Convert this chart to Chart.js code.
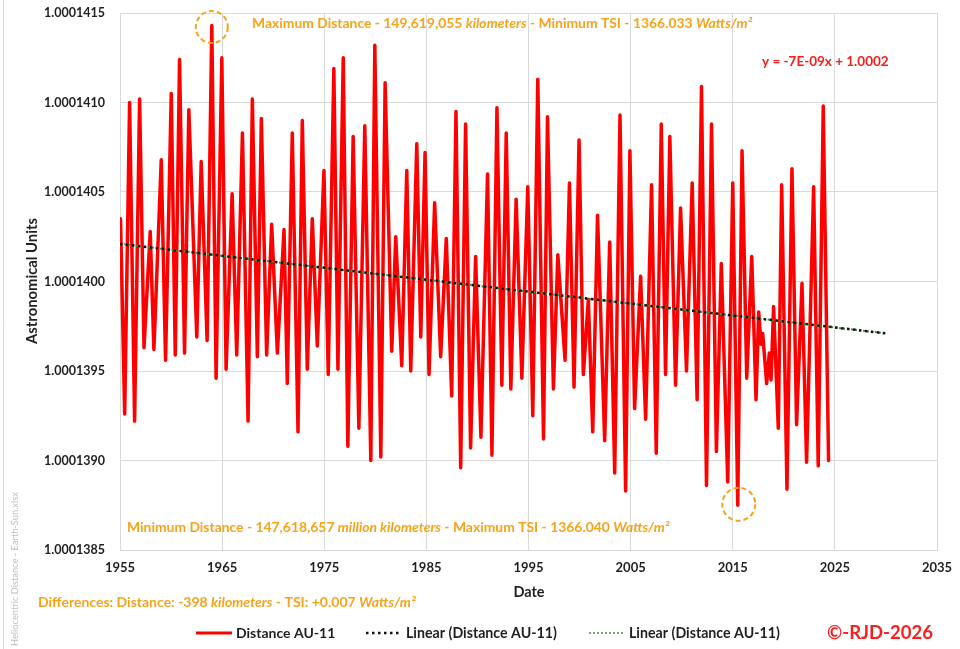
<!DOCTYPE html>
<html>
<head>
<meta charset="utf-8">
<script src="https://cdn.jsdelivr.net/npm/chart.js@4/dist/chart.umd.min.js"></script>
<style>
  html, body { margin: 0; padding: 0; background: #ffffff; }
  #wrap { width: 960px; height: 649px; position: relative; }
</style>
</head>
<body>
<div id="wrap"><canvas id="c" width="960" height="649"></canvas></div>
<script>
// Heliocentric distance (AU, 11-year series), turning points by decimal year
const years = [
  1955.05, 1955.46, 1955.94, 1956.43, 1956.92, 1957.35, 1957.96, 1958.32, 1959.04, 1959.46,
  1960.02, 1960.41, 1960.83, 1961.32, 1961.74, 1962.52, 1962.95, 1963.53, 1963.99, 1964.41,
  1964.97, 1965.39, 1965.98, 1966.43, 1966.99, 1967.54, 1967.96, 1968.45, 1968.84, 1969.36,
  1969.85, 1970.41, 1971.06, 1971.38, 1971.87, 1972.43, 1972.85, 1973.34, 1973.83, 1974.32,
  1974.97, 1975.39, 1975.94, 1976.34, 1976.86, 1977.31, 1977.83, 1978.39, 1978.97, 1979.56,
  1979.95, 1980.54, 1980.96, 1981.61, 1982.00, 1982.59, 1983.08, 1983.47, 1984.06, 1984.45,
  1984.87, 1985.26, 1985.81, 1986.40, 1986.95, 1987.48, 1987.90, 1988.36, 1988.84, 1989.33,
  1989.82, 1990.34, 1990.99, 1991.42, 1991.91, 1992.39, 1992.82, 1993.27, 1993.79, 1994.35,
  1994.93, 1995.42, 1995.91, 1996.47, 1996.86, 1997.44, 1997.87, 1998.58, 1999.01, 1999.46,
  1999.95, 2000.37, 2000.86, 2001.29, 2001.76, 2002.46, 2002.95, 2003.44, 2003.96, 2004.51,
  2004.93, 2005.39, 2005.98, 2006.47, 2007.05, 2007.51, 2008.00, 2008.42, 2008.84, 2009.40,
  2009.89, 2010.47, 2011.03, 2011.51, 2011.94, 2012.43, 2012.92, 2013.40, 2013.88, 2014.51,
  2015.00, 2015.49, 2015.91, 2016.37, 2016.86, 2017.28, 2017.54, 2017.77, 2017.93, 2018.32,
  2018.58, 2018.75, 2019.00, 2019.46, 2019.79, 2020.31, 2020.80, 2021.25, 2021.78, 2022.23,
  2022.92, 2023.37, 2023.86, 2024.38
];
const distanceAU = [
  1.00014035, 1.00013926, 1.00014100, 1.00013922, 1.00014102, 1.00013963, 1.00014028, 1.00013962, 1.00014068, 1.00013956,
  1.00014105, 1.00013959, 1.00014124, 1.00013960, 1.00014096, 1.00013969, 1.00014067, 1.00013967, 1.00014143, 1.00013946,
  1.00014125, 1.00013951, 1.00014049, 1.00013959, 1.00014083, 1.00013922, 1.00014102, 1.00013958, 1.00014091, 1.00013959,
  1.00014032, 1.00013960, 1.00014029, 1.00013943, 1.00014083, 1.00013916, 1.00014090, 1.00013951, 1.00014035, 1.00013964,
  1.00014062, 1.00013948, 1.00014119, 1.00013951, 1.00014125, 1.00013908, 1.00014081, 1.00013918, 1.00014087, 1.00013900,
  1.00014132, 1.00013902, 1.00014111, 1.00013961, 1.00014025, 1.00013953, 1.00014062, 1.00013950, 1.00014077, 1.00013969,
  1.00014072, 1.00013948, 1.00014044, 1.00013958, 1.00014024, 1.00013936, 1.00014095, 1.00013896, 1.00014088, 1.00013907,
  1.00014014, 1.00013913, 1.00014060, 1.00013903, 1.00014097, 1.00013942, 1.00014083, 1.00013940, 1.00014046, 1.00013946,
  1.00014053, 1.00013925, 1.00014113, 1.00013912, 1.00014092, 1.00013940, 1.00014015, 1.00013956, 1.00014055, 1.00013941,
  1.00014079, 1.00013948, 1.00013990, 1.00013916, 1.00014037, 1.00013911, 1.00014022, 1.00013893, 1.00014093, 1.00013883,
  1.00014073, 1.00013929, 1.00014003, 1.00013923, 1.00014054, 1.00013904, 1.00014088, 1.00013948, 1.00014081, 1.00013942,
  1.00014041, 1.00013950, 1.00014055, 1.00013934, 1.00014109, 1.00013886, 1.00014088, 1.00013905, 1.00014010, 1.00013888,
  1.00014055, 1.00013875, 1.00014073, 1.00013946, 1.00014014, 1.00013934, 1.00013983, 1.00013965, 1.00013971, 1.00013943,
  1.00013960, 1.00013945, 1.00013986, 1.00013918, 1.00014054, 1.00013884, 1.00014063, 1.00013920, 1.00013999, 1.00013899,
  1.00014053, 1.00013897, 1.00014098, 1.00013900
];

// Linear trend of the series, with forecast to 2030
const trendYears = [1955, 2030];
const trendAU = [1.00014021, 1.00013971];

// Axis ticks
const xTickValues = [1955, 1965, 1975, 1985, 1995, 2005, 2015, 2025, 2035];
const yTickValues = [1.0001385, 1.0001390, 1.0001395, 1.0001400, 1.0001405, 1.0001410, 1.0001415];

const FONT = 'Lato, "Liberation Sans", sans-serif';
const ORANGE = '#f5a31a';
const RED = '#ff0000';
const TEXT = '#1f1f1f';
const GRID = '#d9d9d9';

const toPoints = (xs, ys) => xs.map((x, i) => ({ x: x, y: ys[i] }));

// Draws a run of text pieces, some in italics, one after another
function richText(ctx, x, y, parts, size, color) {
  let cx = x;
  ctx.fillStyle = color;
  ctx.textBaseline = 'middle';
  ctx.textAlign = 'left';
  parts.forEach(([t, italic]) => {
    ctx.font = (italic ? 'italic ' : '') + 'bold ' + size + 'px ' + FONT;
    ctx.fillText(t, cx, y);
    cx += ctx.measureText(t).width;
  });
}

function dashedCircle(ctx, cx, cy, r) {
  ctx.save();
  ctx.beginPath();
  ctx.strokeStyle = ORANGE;
  ctx.lineWidth = 2;
  ctx.setLineDash([5, 3]);
  ctx.arc(cx, cy, r, 0, Math.PI * 2);
  ctx.stroke();
  ctx.restore();
}

const decorations = {
  id: 'decorations',
  afterDraw(chart) {
    const ctx = chart.ctx;
    const xs = chart.scales.x, ys = chart.scales.y;
    ctx.save();

    // outer frame edge on the left
    ctx.strokeStyle = GRID;
    ctx.lineWidth = 1;
    ctx.beginPath();
    ctx.moveTo(3.5, 0);
    ctx.lineTo(3.5, 649);
    ctx.stroke();

    // file name, vertical
    ctx.save();
    ctx.translate(15, 646);
    ctx.rotate(-Math.PI / 2);
    ctx.font = '9.3px ' + FONT;
    ctx.fillStyle = '#bdbdbd';
    ctx.textAlign = 'left';
    ctx.textBaseline = 'middle';
    ctx.fillText('Heliocentric Distance - Earth-Sun.xlsx', 0, 0);
    ctx.restore();

    // axis titles
    ctx.save();
    ctx.translate(32, 281);
    ctx.rotate(-Math.PI / 2);
    ctx.font = 'bold 14.8px ' + FONT;
    ctx.fillStyle = TEXT;
    ctx.textAlign = 'center';
    ctx.textBaseline = 'middle';
    ctx.fillText('Astronomical Units', 0, 0);
    ctx.restore();

    ctx.font = 'bold 14.5px ' + FONT;
    ctx.fillStyle = TEXT;
    ctx.textAlign = 'center';
    ctx.textBaseline = 'middle';
    ctx.fillText('Date', 529, 592);

    // circles round the extreme distances
    let iMax = 0, iMin = 0;
    distanceAU.forEach((v, i) => {
      if (v > distanceAU[iMax]) iMax = i;
      if (v < distanceAU[iMin]) iMin = i;
    });
    dashedCircle(ctx, xs.getPixelForValue(years[iMax]), ys.getPixelForValue(distanceAU[iMax]) + 1.5, 16);
    dashedCircle(ctx, xs.getPixelForValue(years[iMin]) + 1, ys.getPixelForValue(distanceAU[iMin]) - 1, 16.5);

    // notes
    richText(ctx, 252, 24, [
      ['Maximum Distance - 149,619,055 ', false], ['kilometers', true],
      [' - Minimum TSI - 1366.033 ', false], ['Watts/m²', true]
    ], 13.9, ORANGE);
    richText(ctx, 127, 528, [
      ['Minimum Distance - 147,618,657 ', false], ['million kilometers', true],
      [' - Maximum TSI - 1366.040 ', false], ['Watts/m²', true]
    ], 13.9, ORANGE);
    richText(ctx, 38, 602, [
      ['Differences: Distance: -398 ', false], ['kilometers', true],
      [' - TSI: +0.007 ', false], ['Watts/m²', true]
    ], 14, ORANGE);
    richText(ctx, 762, 62, [['y = -7E-09x + 1.0002', false]], 13.5, '#f21d1d');

    // legend
    const ly = 633;
    ctx.lineCap = 'butt';
    ctx.strokeStyle = RED;
    ctx.lineWidth = 3;
    ctx.setLineDash([]);
    ctx.beginPath(); ctx.moveTo(196, ly); ctx.lineTo(232, ly); ctx.stroke();
    richText(ctx, 236, ly, [['Distance AU-11', false]], 14, TEXT);

    ctx.strokeStyle = '#111111';
    ctx.lineWidth = 2.5;
    ctx.setLineDash([2.5, 3.5]);
    ctx.beginPath(); ctx.moveTo(366, ly); ctx.lineTo(401, ly); ctx.stroke();
    richText(ctx, 406, ly, [['Linear (Distance AU-11)', false]], 14.2, TEXT);

    ctx.strokeStyle = '#3f8f3a';
    ctx.lineWidth = 1.5;
    ctx.setLineDash([2, 2]);
    ctx.beginPath(); ctx.moveTo(589, ly); ctx.lineTo(625, ly); ctx.stroke();
    richText(ctx, 629, ly, [['Linear (Distance AU-11)', false]], 14.2, TEXT);

    ctx.setLineDash([]);
    richText(ctx, 827, ly, [['©-RJD-2026', false]], 18.5, '#fa1e1e');

    ctx.restore();
  }
};

new Chart(document.getElementById('c'), {
  type: 'line',
  data: {
    datasets: [
      {
        label: 'Distance AU-11',
        data: toPoints(years, distanceAU),
        borderColor: RED,
        borderWidth: 3.5,
        borderJoinStyle: 'round',
        borderCapStyle: 'round',
        pointRadius: 0,
        tension: 0,
        order: 3
      },
      {
        label: 'Linear (Distance AU-11)',
        data: toPoints(trendYears, trendAU),
        borderColor: '#3f8f3a',
        borderWidth: 2,
        borderDash: [2, 2],
        pointRadius: 0,
        order: 2
      },
      {
        label: 'Linear (Distance AU-11)',
        data: toPoints(trendYears, trendAU),
        borderColor: '#111111',
        borderWidth: 2.5,
        borderDash: [2.5, 3.5],
        pointRadius: 0,
        order: 1
      }
    ]
  },
  options: {
    responsive: false,
    animation: false,
    devicePixelRatio: 1,
    layout: { padding: { left: 0, right: 23, top: 13, bottom: 0 } },
    plugins: { legend: { display: false }, tooltip: { enabled: false } },
    scales: {
      x: {
        type: 'linear',
        min: 1955,
        max: 2035,
        afterBuildTicks: (s) => { s.ticks = xTickValues.map(v => ({ value: v })); },
        afterFit: (s) => { s.height = 99; s.paddingLeft = 0; s.paddingRight = 0; },
        ticks: {
          autoSkip: false,
          maxRotation: 0,
          padding: 10,
          color: TEXT,
          font: { family: FONT, size: 13, weight: 'bold' },
          callback: (v) => String(v)
        },
        grid: { color: GRID, lineWidth: 1, drawTicks: false },
        border: { color: GRID }
      },
      y: {
        type: 'linear',
        min: 1.0001385,
        max: 1.0001415,
        afterBuildTicks: (s) => { s.ticks = yTickValues.map(v => ({ value: v })); },
        afterFit: (s) => { s.width = 120; s.paddingTop = 0; s.paddingBottom = 0; },
        ticks: {
          autoSkip: false,
          padding: 15,
          color: TEXT,
          font: { family: FONT, size: 12.5, weight: 'bold' },
          callback: (v) => Number(v).toFixed(7)
        },
        grid: { color: GRID, lineWidth: 1, drawTicks: false },
        border: { color: GRID }
      }
    }
  },
  plugins: [decorations]
});
</script>
</body>
</html>
